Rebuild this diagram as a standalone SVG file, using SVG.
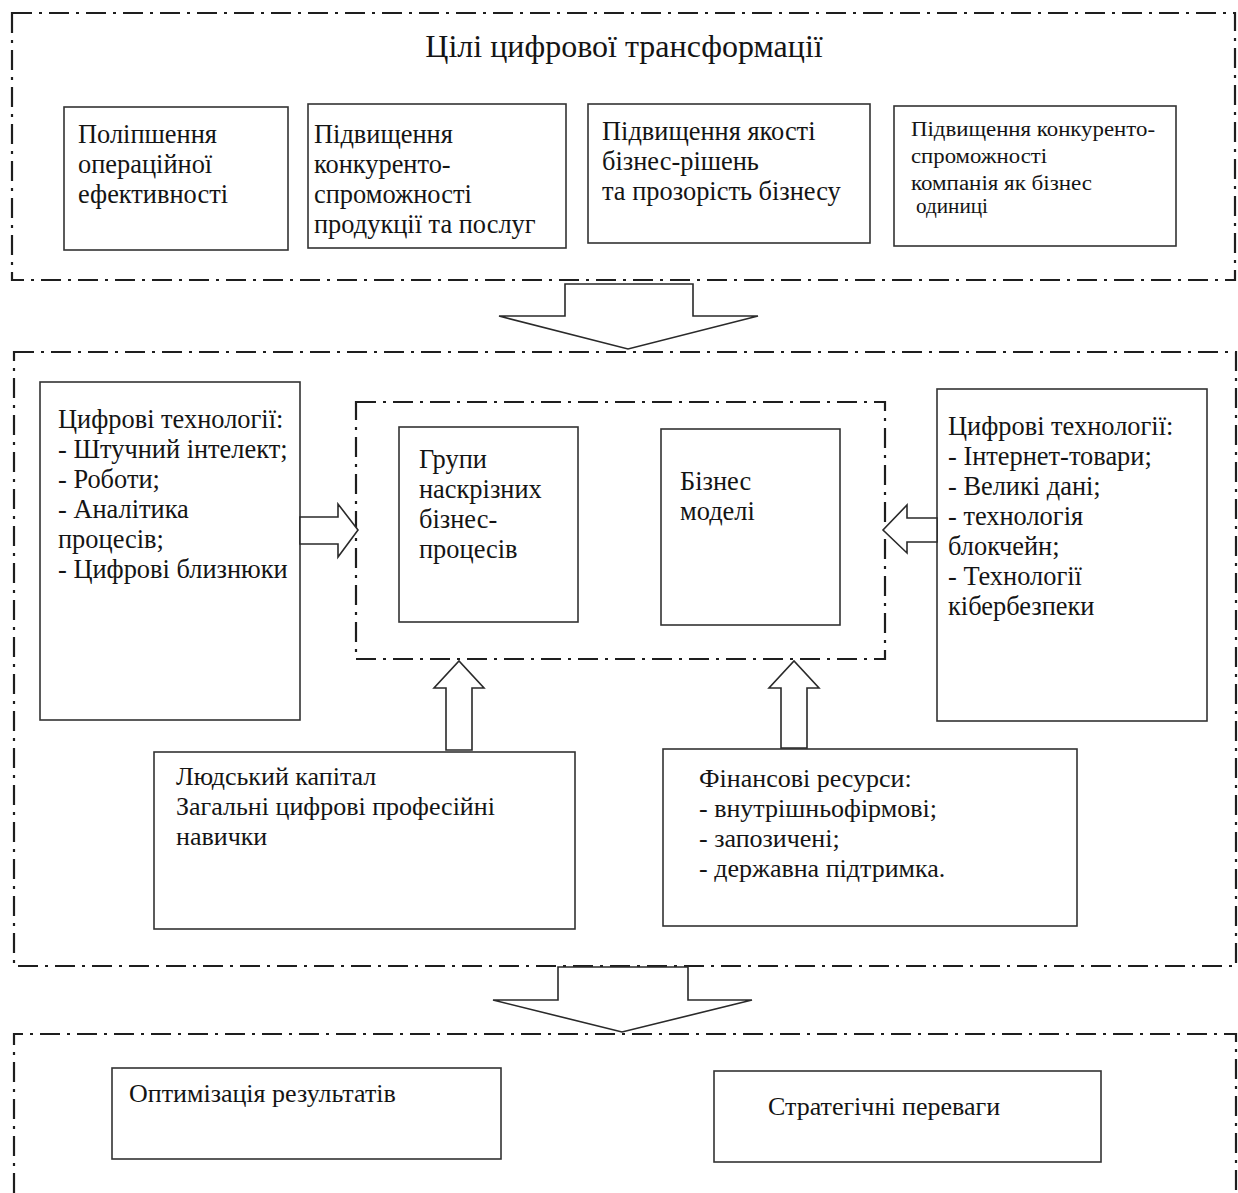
<svg xmlns="http://www.w3.org/2000/svg" width="1238" height="1193" viewBox="0 0 1238 1193">
<defs>
<style>
.frame{fill:none;stroke:#1e1e1e;stroke-width:2.2;stroke-dasharray:20 7 3 7}
.box{fill:#fff;stroke:#333;stroke-width:1.6}
.arr{fill:#fff;stroke:#2a2a2a;stroke-width:1.6;stroke-linejoin:miter}
text{font-family:"Liberation Serif","Times New Roman",serif;fill:#141414}
.t{font-size:26.4px}
.s{font-size:20px}
.n{font-size:26px}
.title{font-size:32px}
</style>
</defs>
<rect width="1238" height="1193" fill="#fff"/>

<g id="frame-goals">
<rect class="frame" x="12" y="13" width="1223" height="267"/>
<text class="title" x="624" y="57" text-anchor="middle">Цілі цифрової трансформації</text>
</g>
<g id="goal1">
<rect class="box" x="64" y="107" width="224" height="143"/>
<text class="t" x="78" y="143"><tspan x="78">Поліпшення</tspan><tspan x="78" dy="30">операційної</tspan><tspan x="78" dy="30">ефективності</tspan></text>
</g>
<g id="goal2">
<rect class="box" x="308" y="104" width="258" height="144"/>
<text class="t" x="314" y="143"><tspan x="314">Підвищення</tspan><tspan x="314" dy="30">конкуренто-</tspan><tspan x="314" dy="30">спроможності</tspan><tspan x="314" dy="30">продукції та послуг</tspan></text>
</g>
<g id="goal3">
<rect class="box" x="588" y="104" width="282" height="139"/>
<text class="t" x="602" y="140"><tspan x="602">Підвищення якості</tspan><tspan x="602" dy="30">бізнес-рішень</tspan><tspan x="602" dy="30">та прозорість бізнесу</tspan></text>
</g>
<g id="goal4">
<rect class="box" x="894" y="106" width="282" height="140"/>
<text class="s" x="911" y="136"><tspan x="911" textLength="244" lengthAdjust="spacingAndGlyphs">Підвищення конкуренто-</tspan><tspan x="911" dy="27" textLength="136" lengthAdjust="spacingAndGlyphs">спроможності</tspan><tspan x="911" dy="27" textLength="181" lengthAdjust="spacingAndGlyphs">компанія як бізнес</tspan><tspan x="916" dy="23" textLength="72" lengthAdjust="spacingAndGlyphs">одиниці</tspan></text>
</g>

<g id="frame-enablers">
<rect class="frame" x="14" y="352" width="1222" height="614"/>
</g>
<g id="frame-core">
<rect class="frame" x="356" y="402" width="529" height="257"/>
</g>
<g id="tech-left">
<rect class="box" x="40" y="382" width="260" height="338"/>
<text class="t" x="58" y="428"><tspan x="58">Цифрові технології:</tspan><tspan x="58" dy="30">- Штучний інтелект;</tspan><tspan x="58" dy="30">- Роботи;</tspan><tspan x="58" dy="30">- Аналітика</tspan><tspan x="58" dy="30">процесів;</tspan><tspan x="58" dy="30">- Цифрові близнюки</tspan></text>
</g>
<g id="processes">
<rect class="box" x="399" y="427" width="179" height="195"/>
<text class="t" x="419" y="468"><tspan x="419">Групи</tspan><tspan x="419" dy="30">наскрізних</tspan><tspan x="419" dy="30">бізнес-</tspan><tspan x="419" dy="30">процесів</tspan></text>
</g>
<g id="business-models">
<rect class="box" x="661" y="429" width="179" height="196"/>
<text class="t" x="680" y="490"><tspan x="680">Бізнес</tspan><tspan x="680" dy="30">моделі</tspan></text>
</g>
<g id="tech-right">
<rect class="box" x="937" y="389" width="270" height="332"/>
<text class="t" x="948" y="435"><tspan x="948">Цифрові технології:</tspan><tspan x="948" dy="30">- Інтернет-товари;</tspan><tspan x="948" dy="30">- Великі дані;</tspan><tspan x="948" dy="30">- технологія</tspan><tspan x="948" dy="30">блокчейн;</tspan><tspan x="948" dy="30">- Технології</tspan><tspan x="948" dy="30">кібербезпеки</tspan></text>
</g>
<g id="human-capital">
<rect class="box" x="154" y="752" width="421" height="177"/>
<text class="n" x="176" y="785"><tspan x="176">Людський капітал</tspan><tspan x="176" dy="30">Загальні цифрові професійні</tspan><tspan x="176" dy="30">навички</tspan></text>
</g>
<g id="finance">
<rect class="box" x="663" y="749" width="414" height="177"/>
<text class="n" x="699" y="787"><tspan x="699">Фінансові ресурси:</tspan><tspan x="699" dy="30">- внутрішньофірмові;</tspan><tspan x="699" dy="30">- запозичені;</tspan><tspan x="699" dy="30">- державна підтримка.</tspan></text>
</g>

<g id="frame-results">
<path class="frame" d="M14 1193 V1034 H1236 V1193"/>
</g>
<g id="optimization">
<rect class="box" x="112" y="1068" width="389" height="91"/>
<text class="n" x="129" y="1102" font-size="26.5">Оптимізація результатів</text>
</g>
<g id="strategic">
<rect class="box" x="714" y="1071" width="387" height="91"/>
<text class="n" x="768" y="1115" font-size="26.5">Стратегічні переваги</text>
</g>

<g id="connectors">
<polygon class="arr" points="565,284 693,284 693,316 758,316 628,349 499,316 565,316"/>
<polygon class="arr" points="300,517 338,517 338,504 358,530 338,557 338,544 300,544"/>
<polygon class="arr" points="937,518 907,518 907,505 883,530 907,553 907,542 937,542"/>
<polygon class="arr" points="446,750 446,688 434,688 459,661 484,688 472,688 472,750"/>
<polygon class="arr" points="781,748 781,688 769,688 794,661 819,688 807,688 807,748"/>
<polygon class="arr" points="558,967 688,967 688,1000 752,1000 622,1032 493,1000 558,1000"/>
</g>
</svg>
